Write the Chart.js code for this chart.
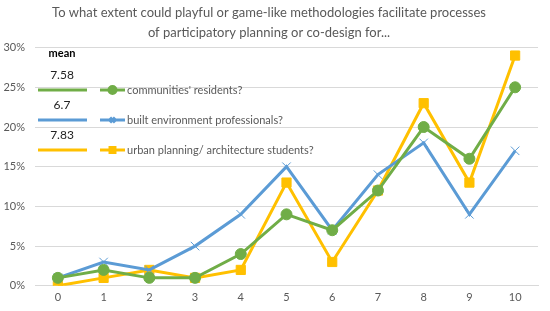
<!DOCTYPE html>
<html>
<head>
<meta charset="utf-8">
<script src="https://cdn.jsdelivr.net/npm/chart.js@4/dist/chart.umd.min.js"></script>
<style>
  html, body { margin: 0; padding: 0; background: #fff; }
  #wrap { width: 550px; height: 311px; }
</style>
</head>
<body>
<div id="wrap"><canvas id="chart1"></canvas></div>
<script>
// scores 0-10 and share of answers (%)
var categories = ['0', '1', '2', '3', '4', '5', '6', '7', '8', '9', '10'];
var seriesNames = ["communities' residents?", 'built environment professionals?', 'urban planning/ architecture students?'];
var residents = [1, 2, 1, 1, 4, 9, 7, 12, 20, 16, 25];
var professionals = [1, 3, 2, 5, 9, 15, 7, 14, 18, 9, 17];
var students = [0, 1, 2, 1, 2, 13, 3, 12, 23, 13, 29];
var means = ['7.58', '6.7', '7.83'];
var yTicks = [0, 5, 10, 15, 20, 25, 30];

var FONT = 'Lato, "Open Sans", sans-serif';
var GREY = '#595959';

// legend with the means, drawn inside the plot like the original
var meanLegend = {
  id: 'meanLegend',
  afterDraw: function (chart) {
    var c = chart.ctx;
    c.save();
    c.textBaseline = 'middle';
    c.fillStyle = '#000';
    c.font = 'bold 11px ' + FONT;
    c.textAlign = 'center';
    c.fillText('mean', 62, 53);
    chart.data.datasets.forEach(function (ds, i) {
      var y = 90 + i * 30;
      c.fillStyle = '#222';
      c.font = '12px ' + FONT;
      c.textAlign = 'center';
      c.fillText(means[i], 62, y - 15);
      c.strokeStyle = ds.borderColor;
      c.lineWidth = 3;
      c.beginPath(); c.moveTo(38, y); c.lineTo(87, y); c.stroke();
      c.beginPath(); c.moveTo(100, y); c.lineTo(125, y); c.stroke();
      Chart.helpers.drawPoint(c, {
        pointStyle: ds.pointStyle, radius: 3.5, borderWidth: ds.pointBorderWidth
      }, 112.5, y);
      c.fillStyle = ds.borderColor;
      c.fill();
      c.fillStyle = GREY;
      c.font = '11px ' + FONT;
      c.textAlign = 'left';
      c.fillText(seriesNames[i], 127, y);
    });
    c.restore();
  }
};

var ctx1 = document.getElementById('chart1').getContext('2d');
var chart1 = new Chart(ctx1, {
  type: 'line',
  data: {
    labels: categories,
    datasets: [{
      label: seriesNames[0],
      data: residents,
      borderColor: '#70ad47',
      backgroundColor: '#70ad47',
      borderWidth: 3,
      pointStyle: 'circle',
      pointRadius: 5.5,
      pointBorderWidth: 1
    }, {
      label: seriesNames[1],
      data: professionals,
      borderColor: '#5b9bd5',
      backgroundColor: '#5b9bd5',
      borderWidth: 3,
      pointStyle: 'crossRot',
      pointRadius: 6,
      pointBorderWidth: 1
    }, {
      label: seriesNames[2],
      data: students,
      borderColor: '#ffc000',
      backgroundColor: '#ffc000',
      borderWidth: 3,
      pointStyle: 'rect',
      pointRadius: 6.5,
      pointBorderWidth: 1
    }]
  },
  options: {
    responsive: true,
    maintainAspectRatio: false,
    animation: false,
    layout: { padding: { left: 0, right: 12, top: 0, bottom: 2 } },
    plugins: {
      legend: { display: false },
      tooltip: { enabled: false },
      title: {
        display: true,
        text: ['To what extent could playful or game-like methodologies facilitate processes',
               'of participatory planning or co-design for...'],
        color: GREY,
        font: { family: FONT, size: 13, weight: 'normal', lineHeight: 1.6 },
        padding: { top: 2, bottom: 4 }
      }
    },
    scales: {
      x: {
        offset: true,
        grid: { display: false, drawTicks: false },
        border: { color: '#d9d9d9' },
        ticks: { color: GREY, font: { family: FONT, size: 11 }, padding: 5 }
      },
      y: {
        min: 0,
        max: 30,
        afterBuildTicks: function (axis) {
          axis.ticks = yTicks.map(function (v) { return { value: v }; });
        },
        afterFit: function (axis) { axis.width = 35; },
        grid: { color: '#d9d9d9', drawTicks: false },
        border: { display: false },
        ticks: {
          color: GREY,
          font: { family: FONT, size: 11 },
          padding: 10,
          callback: function (v) { return v + '%'; }
        }
      }
    }
  },
  plugins: [meanLegend]
});
</script>
</body>
</html>
